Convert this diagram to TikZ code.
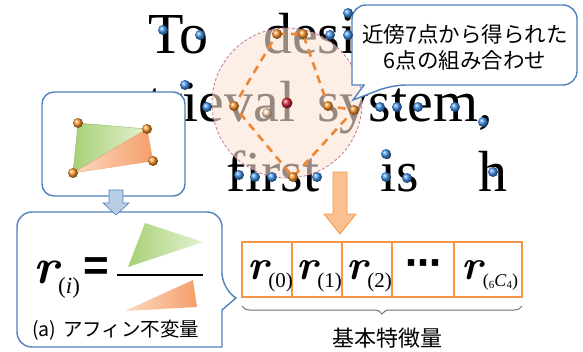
\documentclass[tikz,border=0pt]{standalone}
\usepackage{fontspec}
\setmainfont{Liberation Serif}
\newfontfamily\jp{Noto Sans CJK JP}
\newfontfamily\sansb{Liberation Sans}
\newfontfamily\dvs{DejaVu Sans}
\newfontfamily\lmr{Latin Modern Roman}
\usetikzlibrary{decorations.pathreplacing}
\definecolor{dotblue}{RGB}{65,145,232}
\definecolor{dotorange}{RGB}{252,150,45}
\definecolor{dotred}{RGB}{215,35,50}
\definecolor{dotlight}{RGB}{252,215,185}
\definecolor{boxblue}{RGB}{79,129,189}
\definecolor{vecorange}{RGB}{247,150,70}
\definecolor{arrfill}{RGB}{250,192,144}
\definecolor{hexorange}{RGB}{235,135,55}
\definecolor{circfill}{RGB}{252,228,212}
\definecolor{circline}{RGB}{190,120,150}
\definecolor{greenA}{RGB}{168,208,118}
\definecolor{greenB}{RGB}{228,242,210}
\definecolor{orA}{RGB}{245,158,105}
\definecolor{orB}{RGB}{252,218,195}
\definecolor{bracegray}{RGB}{110,110,110}
\definecolor{arrblue}{RGB}{185,205,229}
\newcommand\rcell[1]{{\lmr\fontsize{42}{42}\selectfont\bfseries\itshape r}\raisebox{-8pt}{\fontsize{21}{21}\selectfont #1}}
\begin{document}
\begin{tikzpicture}[x=1pt,y=-1pt,
  bgtext/.style={anchor=base west,inner sep=0pt,font=\fontsize{58}{58}\selectfont},
  bdot/.style={circle,inner sep=0pt,minimum size=10pt,ball color=dotblue},
  odot/.style={circle,inner sep=0pt,minimum size=10pt,ball color=dotorange},
  panel/.style={draw=boxblue,line width=1.4pt,fill=white},
  celltext/.style={anchor=base,inner sep=0pt}]
\useasboundingbox (0,0) rectangle (583,351);

% background text
\node[bgtext] (w1) at (148,53) {To};
\node[bgtext] (w2) at (263,53) {desi};
\node[bgtext] (w3) at (147,121) {trieval};
\node[bgtext] (w4) at (317,121) {system,};
\node[bgtext] (w5) at (226,191) {first};
\node[bgtext] (w6) at (380,191) {is};
\node[bgtext] (w7) at (478,191) {h};

% neighbourhood circle
\node[circle,minimum size=150pt,inner sep=0pt,fill=circfill,fill opacity=0.6,
      draw=circline,line width=0.8pt,dash pattern=on 3pt off 2pt] (nb) at (287,103) {};

% hexagon of the six chosen points
\coordinate (o1) at (277,34);
\coordinate (o2) at (303,34);
\coordinate (o3) at (328,106);
\coordinate (o4) at (354,110);
\coordinate (o5) at (293,177);
\coordinate (o6) at (234,106);
\draw[hexorange,line width=2.6pt,dash pattern=on 8pt off 6pt]
  (o1) -- (o2) -- (o3) -- (o4) -- (o5) -- (o6) -- cycle;

% callout
\filldraw[draw=boxblue,line width=1.4pt,fill=white]
  (353,100) -- (364,85) -- (352,85) [rounded corners=14pt] -- (352,5) -- (577,5)
  -- (577,85) -- (392,85) [sharp corners] -- cycle;
\node[font=\jp\fontsize{21.5}{26}\selectfont,align=center,inner sep=0pt] (ct) at (465,47)
  {近傍7点から得られた\\6点の組み合わせ};

% dots
\foreach \x/\y [count=\i] in {163/30,200/35,185/85,207/107,239/175,255/177,272/177,317/177,
  348/13,330/35,348/35,380/107,397/107,418/107,455/107,483/122,386/154,386/177,407/178,493/172}
  \node[bdot] (b\i) at (\x,\y) {};
\foreach \i in {1,...,6} \node[odot] (O\i) at (o\i) {};
\node[circle,inner sep=0pt,minimum size=10pt,ball color=dotlight] (ol) at (267,113) {};
\node[circle,inner sep=0pt,minimum size=11pt,ball color=dotred] (red) at (287,103) {};

% upper left panel with two triangles
\draw[panel,rounded corners=12pt] (42,92) rectangle (185,196);
\coordinate (t1) at (78,123);
\coordinate (t2) at (147,129);
\coordinate (t3) at (153,161);
\coordinate (t4) at (73,173);
\shade[left color=greenA,right color=greenB,draw=greenA!80!black,line width=0.3pt] (t1) -- (t2) -- (t4) -- cycle;
\shade[left color=orB,right color=orA,draw=orA,line width=0.3pt] (t2) -- (t3) -- (t4) -- cycle;
\foreach \i in {1,...,4} \node[odot] (T\i) at (t\i) {};

% lower left panel
\filldraw[panel]
  (236,298) -- (222,310) -- (222,347) [rounded corners=15pt] -- (17,347) -- (17,212)
  -- (222,212) -- (222,288) [sharp corners] -- cycle;
\node[anchor=base west,inner sep=0pt,font=\lmr\fontsize{50}{50}\selectfont\bfseries\itshape] (ri) at (33,283) {r};
\node[anchor=base west,inner sep=0pt,font=\fontsize{23}{23}\selectfont] (rs) at (58,293) {(\textit{i})};
\node[inner sep=0pt,font=\sansb\fontsize{44}{44}\selectfont\bfseries] (eq) at (96,269) {=};
\draw[line width=1.8pt] (117,275) -- (203,275);
\shade[left color=greenA,right color=greenB] (128,267) -- (203,242) -- (145,223) -- cycle;
\shade[left color=orB,right color=orA] (125,311) -- (197,307) -- (193,280) -- cycle;
\node[font=\jp\fontsize{19.5}{19.5}\selectfont,anchor=west,inner sep=0pt] (cap) at (32,330) {(a)\hspace{7pt}アフィン不変量};

% blue block arrow
\filldraw[fill=arrblue,draw=boxblue,line width=0.6pt]
  (109,190) -- (123,190) -- (123,203) -- (129,203) -- (116,215) -- (103,203) -- (109,203) -- cycle;

% orange block arrow
\filldraw[fill=arrfill,draw=vecorange,line width=0.8pt]
  (333,172) -- (347,172) -- (347,214) -- (356,214) -- (340,234) -- (324,214) -- (333,214) -- cycle;

% feature vector
\draw[vecorange,line width=1.5pt] (242,242) rectangle (522,297);
\foreach \x in {292,342,392,454} \draw[vecorange,line width=1.5pt] (\x,242) -- (\x,297);
\node[celltext] (c0) at (270,279) {\rcell{(0)}};
\node[celltext] (c1) at (319,279) {\rcell{(1)}};
\node[celltext] (c2) at (369,279) {\rcell{(2)}};
\node[inner sep=0pt,font=\dvs\bfseries\fontsize{36}{36}\selectfont] (c3) at (423,268) {⋯};
\node[celltext] (c4) at (490,279) {{\lmr\fontsize{42}{42}\selectfont\bfseries\itshape r}\raisebox{-7pt}{\fontsize{18}{18}\selectfont(\raisebox{-2pt}{\fontsize{11}{11}\selectfont 6}\textit{C}\raisebox{-2pt}{\fontsize{11}{11}\selectfont 4})}};

% brace
\draw[bracegray,line width=1pt,decorate,decoration={brace,mirror,amplitude=8pt}]
  (242,306) -- (522,306);
\node[font=\jp\fontsize{22}{22}\selectfont,inner sep=0pt] (lab) at (387,338) {基本特徴量};
\end{tikzpicture}
\end{document}
